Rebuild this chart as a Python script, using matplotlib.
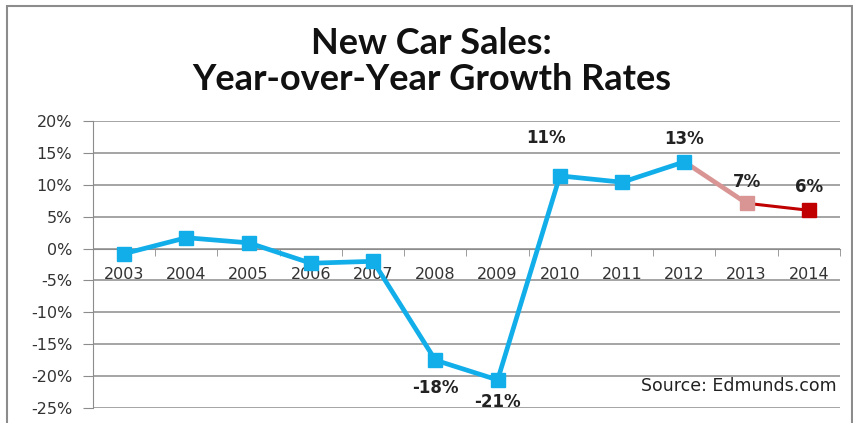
import matplotlib.pyplot as plt
from matplotlib.patches import Rectangle
import numpy as np

## data
years = ['2003', '2004', '2005', '2006', '2007', '2008', '2009',
         '2010', '2011', '2012', '2013', '2014']
growth = [-0.8, 1.7, 0.9, -2.3, -2.0, -17.5, -20.6, 11.4, 10.4, 13.6, 7.1, 6.0]
point_labels = {7: '11%', 9: '13%', 10: '7%', 11: '6%', 5: '-18%', 6: '-21%'}
yticks = [20, 15, 10, 5, 0, -5, -10, -15, -20, -25]

blue = '#12AEEA'
pink = '#D99594'
red = '#C00000'

plt.rcParams['font.family'] = 'DejaVu Sans'

fig = plt.figure(figsize=(8.54, 4.23), dpi=100)
ax = fig.add_axes([93 / 854, 1 - 408 / 423, 747 / 854, 287 / 423])

x = np.arange(len(years))
## history in blue, 2013 pink, 2014 dark red
ax.plot(x[:10], growth[:10], color=blue, lw=3.4, marker='s', ms=10, zorder=3)
ax.plot(x[9:11], growth[9:11], color=pink, lw=3.4, zorder=2)
ax.plot(x[10:12], growth[10:12], color=red, lw=2.2, zorder=2)
ax.plot(x[10], growth[10], 's', color=pink, ms=10, zorder=3)
ax.plot(x[11], growth[11], 's', color=red, ms=10, zorder=3)

ax.set_xlim(-0.5, len(years) - 0.5)
ax.set_ylim(-25, 20)
ax.set_yticks(yticks)
ax.set_yticklabels([f'{t}%' for t in yticks], fontsize=11.5, color='#333333',
                   family='DejaVu Sans')
ax.yaxis.grid(True, color='#8c8c8c', lw=1.1)
ax.set_axisbelow(True)
ax.tick_params(axis='y', length=7, color='#8c8c8c', pad=8)

## category axis sits on the 0% line
for s in ['top', 'right']:
    ax.spines[s].set_visible(False)
ax.spines['left'].set_color('#8c8c8c')
ax.spines['bottom'].set_position(('data', 0))
ax.spines['bottom'].set_color('#8c8c8c')
ax.set_xticks(x)
ax.set_xticklabels(years, fontsize=11.5, color='#333333', family='DejaVu Sans')
ax.set_xticks(np.arange(-0.5, len(years)), minor=True)
ax.tick_params(axis='x', which='major', length=0, pad=13)
ax.tick_params(axis='x', which='minor', length=5, color='#8c8c8c')

offsets = {7: (-0.22, 5.9), 9: (0.0, 3.6), 10: (0.0, 3.4), 11: (0.0, 3.6),
           5: (0.0, -4.3), 6: (0.0, -3.4)}
for i, lab in point_labels.items():
    dx, dy = offsets[i]
    ax.text(x[i] + dx, growth[i] + dy, lab, ha='center', va='center',
            fontsize=12, fontweight='bold', color='#222222', family='DejaVu Sans')

ax.text(0.995, 0.075, 'Source: Edmunds.com', transform=ax.transAxes,
        ha='right', va='center', fontsize=12.5, color='#222222', family='DejaVu Sans')

fig.text(0.505, 1 - 43 / 423, 'New Car Sales:', ha='center', va='center',
         fontsize=26, fontweight='bold', family='Lato', color='#111111')
fig.text(0.505, 1 - 79 / 423, 'Year-over-Year Growth Rates', ha='center', va='center',
         fontsize=26, fontweight='bold', family='Lato', color='#111111')

## chart border
fig.patches.append(Rectangle((7 / 854, -0.1), 845 / 854, 1.1 - 6 / 423,
                             transform=fig.transFigure, fill=False,
                             edgecolor='#8c8c8c', lw=1.5))

fig.savefig('out.png', dpi=100)
